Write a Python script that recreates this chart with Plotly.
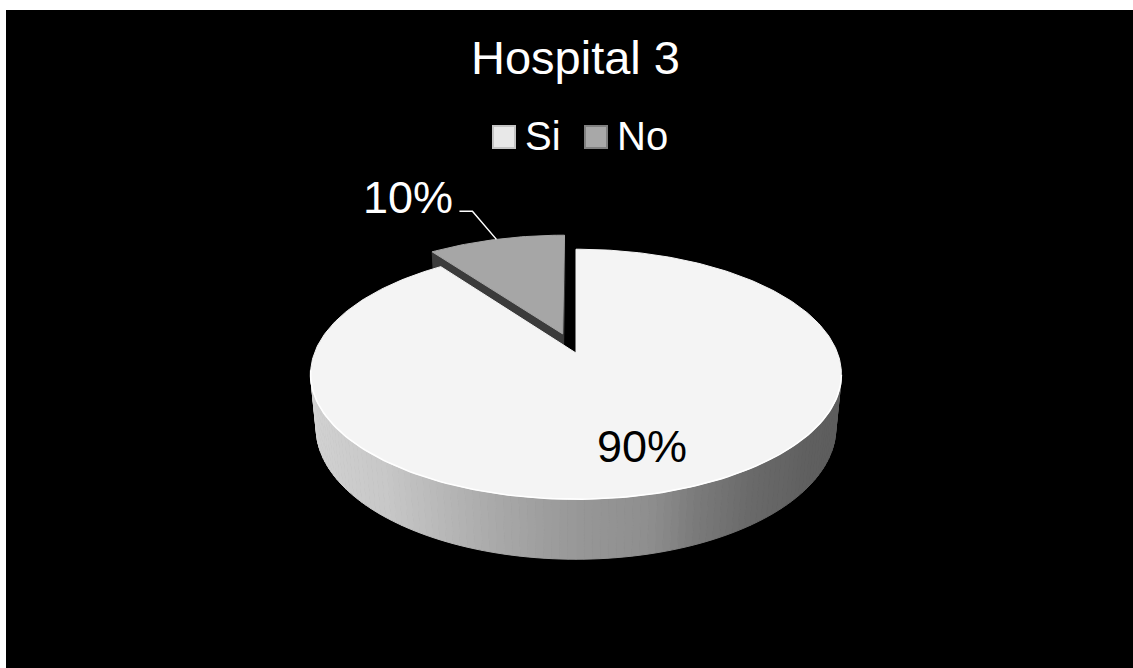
import numpy as np
import plotly.graph_objects as go

# ---- chart data ----
categories = ["Si", "No"]
values = [90, 10]
chart_title = "Hospital 3"

# ---- canvas & 3D view settings ----
W, H = 1133, 668
CX, CY = 576, 353          # screen position of the pie centre
FOCAL = 1368               # projection scale
DIST = 5.23                # camera distance (in pie radii)
ELEV = np.arcsin(0.464)    # camera elevation
THICK = 0.234              # pie thickness (in pie radii)
EXPLODE = [0.0, 0.17]      # radial pull-out of each slice
TOP_COLORS = ["#f4f4f4", "#a6a6a6"]
CUT_COLOR = "#3b3b3b"
FONT = "Liberation Sans, Arial, sans-serif"

# side shading along the rim (angle clockwise from the back -> grey level)
SHADE_ANG = [90, 100, 118, 128, 145, 157, 163, 167, 179, 186, 194, 200, 210, 220, 240, 260, 270]
SHADE_LVL = [94, 94, 94, 96, 106, 122, 136, 143, 151, 158, 168, 176, 189, 200, 207, 212, 214]

S, C = np.sin(ELEV), np.cos(ELEV)
CAM = np.array([0.0, -DIST * C, DIST * S])


def project(X, Y, Z):
    X, Y, Z = np.asarray(X, float), np.asarray(Y, float), np.asarray(Z, float)
    up = Y * S + Z * C
    depth = DIST + Y * C - Z * S
    return CX + FOCAL * X / depth, CY - FOCAL * up / depth


def unit(deg):
    t = np.radians(deg)
    return np.sin(t), np.cos(t)


def grey(level):
    v = int(round(level))
    return f"rgb({v},{v},{v})"


def poly(xs, ys, color, line_color=None, line_width=1.0):
    return go.Scatter(
        x=list(xs), y=list(ys), mode="lines", fill="toself",
        fillcolor=color,
        line=dict(color=line_color or color, width=line_width),
        hoverinfo="skip", showlegend=False,
    )


total = float(sum(values))
shares = [v / total for v in values]
starts = np.concatenate([[0.0], np.cumsum(shares)[:-1]]) * 360.0
ends = starts + np.array(shares) * 360.0
mids = (starts + ends) / 2.0
offsets = [np.array(unit(m)) * e for m, e in zip(mids, EXPLODE)]

fig = go.Figure()

# draw far slices first
order = sorted(range(len(values)), key=lambda i: -(np.cos(np.radians(mids[i])) + offsets[i][1]))

for i in order:
    a0, a1 = starts[i], ends[i]
    ox, oy = offsets[i]

    # radial cut faces
    for ang, sign in ((a0, -1), (a1, 1)):
        ux, uy = unit(ang)
        normal = np.array([sign * uy, -sign * ux, 0.0])
        to_cam = CAM - np.array([ox, oy, 0.0])
        if normal @ to_cam > 1e-6:
            X = [ox, ox + ux, ox + ux, ox]
            Y = [oy, oy + uy, oy + uy, oy]
            Z = [0, 0, -THICK, -THICK]
            sx, sy = project(X, Y, Z)
            fig.add_trace(poly(np.append(sx, sx[0]), np.append(sy, sy[0]), CUT_COLOR))

    # outer curved side, only where it faces the camera
    step = 1.5
    angs = np.arange(a0, a1 + 1e-9, step)
    if angs[-1] < a1:
        angs = np.append(angs, a1)
    for t0, t1 in zip(angs[:-1], angs[1:]):
        tm = (t0 + t1) / 2
        ux, uy = unit(tm)
        pt = np.array([ox + ux, oy + uy, -THICK / 2])
        if np.array([ux, uy, 0.0]) @ (CAM - pt) <= 0:
            continue
        tt = np.linspace(t0, t1, 3)
        ex, ey = unit(tt)
        X = np.concatenate([ex, ex[::-1]]) + ox
        Y = np.concatenate([ey, ey[::-1]]) + oy
        Z = np.concatenate([np.zeros(3), np.full(3, -THICK)])
        sx, sy = project(X, Y, Z)
        col = grey(np.interp(tm % 360, SHADE_ANG, SHADE_LVL))
        fig.add_trace(poly(np.append(sx, sx[0]), np.append(sy, sy[0]), col))

    # top face
    tt = np.linspace(a0, a1, max(8, int((a1 - a0) / 1.0)))
    ex, ey = unit(tt)
    X = np.concatenate([[ox], ex + ox, [ox]])
    Y = np.concatenate([[oy], ey + oy, [oy]])
    sx, sy = project(X, Y, np.zeros(len(X)))
    fig.add_trace(poly(sx, sy, TOP_COLORS[i], line_color=TOP_COLORS[i], line_width=1))

    # bright front rim highlight
    if a1 - a0 > 180:
        hl = np.linspace(100, 262, 120)
        hl = hl[(hl >= a0) & (hl <= a1)]
        hx, hy = unit(hl)
        sx, sy = project(hx + ox, hy + oy, np.zeros(len(hl)))
        fig.add_trace(go.Scatter(x=sx, y=sy, mode="lines",
                                 line=dict(color="#ffffff", width=1.6),
                                 hoverinfo="skip", showlegend=False))

# ---- data labels ----
annotations = []
for i, (v, m) in enumerate(zip(values, mids)):
    pct = f"{v / total * 100:.0f}%"
    ox, oy = offsets[i]
    if shares[i] >= 0.25:
        ux, uy = unit(m)
        lx, ly = project(ox + 0.7 * ux, oy + 0.7 * uy, 0.0)
        annotations.append(dict(x=float(lx) + 2, y=float(ly) + 2, text=pct, showarrow=False,
                                font=dict(family=FONT, size=45, color="#000000"),
                                xanchor="center", yanchor="middle"))
    else:
        ux, uy = unit(m)
        px, py = project(ox + ux, oy + uy, 0.0)
        px, py = float(px), float(py)
        elbow = (px - 24, py - 28)
        start = (elbow[0] - 13, elbow[1])
        fig.add_trace(go.Scatter(x=[px, elbow[0], start[0]], y=[py, elbow[1], start[1]],
                                 mode="lines", line=dict(color="#ffffff", width=1.5),
                                 hoverinfo="skip", showlegend=False))
        annotations.append(dict(x=start[0] - 4, y=start[1] - 14, text=pct, showarrow=False,
                                font=dict(family=FONT, size=45, color="#ffffff"),
                                xanchor="right", yanchor="middle"))

# ---- title ----
annotations.append(dict(x=575, y=57, text=chart_title, showarrow=False,
                        font=dict(family=FONT, size=47, color="#ffffff"),
                        xanchor="center", yanchor="middle"))

# ---- legend (swatch + label) ----
shapes = [dict(type="rect", x0=6, x1=W, y0=10, y1=H, xref="x", yref="y",
               fillcolor="#000000", line=dict(width=0), layer="below")]
legend_x = [493, 585]
swatch_fill = ["#e8e8e8", "#a8a8a8"]
swatch_edge = ["#c4c4c4", "#808080"]
for k, name in enumerate(categories):
    x0 = legend_x[k]
    shapes.append(dict(type="rect", x0=x0, x1=x0 + 22, y0=126, y1=148, xref="x", yref="y",
                       fillcolor=swatch_fill[k], line=dict(color=swatch_edge[k], width=2)))
    annotations.append(dict(x=x0 + 30, y=136, text=name, showarrow=False,
                            font=dict(family=FONT, size=40, color="#ffffff"),
                            xanchor="left", yanchor="middle"))

fig.update_layout(
    width=W, height=H,
    margin=dict(l=0, r=0, t=0, b=0),
    paper_bgcolor="#ffffff", plot_bgcolor="#ffffff",
    xaxis=dict(range=[0, W], visible=False, fixedrange=True),
    yaxis=dict(range=[H, 0], visible=False, fixedrange=True),
    shapes=shapes, annotations=annotations,
    showlegend=False,
)

fig.write_html("out.html")
